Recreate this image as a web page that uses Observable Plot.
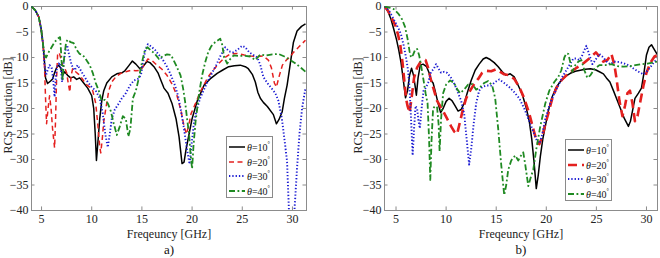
<!DOCTYPE html>
<html><head><meta charset="utf-8">
<script src="https://cdn.jsdelivr.net/npm/d3@7"></script>
<script src="https://cdn.jsdelivr.net/npm/@observablehq/plot@0.6"></script>
<style>
html,body{margin:0;padding:0;background:#fff;}
#wrap{position:relative;width:660px;height:258px;overflow:hidden;font-family:"Liberation Serif","Times New Roman",serif;}
.panel{position:absolute;top:0;}
.legend{position:absolute;background:#fff;border:1px solid #8a8a8a;box-sizing:border-box;font-size:10px;color:#111;width:47px;height:62px;}
.legend .row{position:absolute;left:2px;height:12px;display:flex;align-items:center;white-space:nowrap;}
.legend svg{margin-right:2px;}
.legend sup{font-size:6px;vertical-align:5px;}
</style>
</head>
<body>
<div id="wrap"></div>
<script>
// ---------- data ----------
const xTicks = [5, 10, 15, 20, 25, 30];
const yTicks = [0, -5, -10, -15, -20, -25, -30, -35, -40];
const seriesLabels = ["10", "20", "30", "40"];
const xLabel = "Freqeuncy [GHz]";
const yLabel = "RCS reduction [dB]";
const panelLabels = ["a)", "b)"];

// panel a
const a10 = [[4,0],[4.4,-0.8],[4.73,-2.1],[4.96,-4.4],[5.16,-7.6],[5.3,-11],[5.4,-14],[5.6,-15.1],[5.9,-14.6],[6.1,-14.2],[6.3,-13],[6.5,-12],[6.7,-11.5],[6.9,-12],[7.1,-13.5],[7.3,-12.8],[7.6,-13.5],[7.9,-14],[8.2,-13.8],[8.5,-14.3],[8.8,-14],[9.2,-15],[9.6,-16],[10.0,-17.5],[10.2,-20],[10.35,-25],[10.47,-30.2],[10.6,-27],[10.8,-22],[11.0,-18.5],[11.2,-16.5],[11.5,-15],[12.0,-13.8],[12.5,-13.2],[13.0,-13],[13.3,-12.6],[13.7,-11.6],[14.05,-10.7],[14.4,-11.3],[14.8,-12.2],[15.1,-11.8],[15.5,-10.8],[15.8,-11],[16.2,-11.8],[16.6,-13],[16.9,-14.5],[17.2,-16],[17.6,-17],[18.0,-19],[18.4,-22],[18.7,-25.5],[19.0,-30.8],[19.2,-30.5],[19.4,-28],[19.7,-25],[20.0,-22],[20.5,-18.6],[21.2,-15.4],[21.8,-14.2],[22.5,-13.1],[23.1,-12.4],[23.65,-11.8],[24.2,-11.6],[24.8,-11.5],[25.3,-11.8],[25.6,-12.2],[26.0,-13.3],[26.3,-14.8],[26.55,-16.8],[26.8,-18],[27.1,-18.8],[27.5,-19.6],[28.1,-21.2],[28.4,-23],[28.65,-22.2],[28.97,-20.7],[29.2,-18],[29.47,-15.4],[29.8,-11],[30.1,-7],[30.46,-4.8],[30.9,-3.9],[31.3,-3.4]];
const a20 = [[4,0],[4.4,-0.8],[4.73,-2.1],[4.96,-4.4],[5.16,-7.6],[5.3,-12],[5.4,-18],[5.5,-23],[5.65,-20],[5.8,-17.5],[5.95,-20],[6.1,-24],[6.3,-27.7],[6.4,-22],[6.5,-14],[6.6,-9.5],[6.75,-9],[6.9,-10],[7.1,-11.5],[7.3,-12],[7.5,-13],[7.7,-15.5],[7.82,-16.8],[7.95,-13.5],[8.1,-12.2],[8.4,-12.8],[8.7,-13.3],[9.0,-14],[9.4,-15.2],[9.8,-15.8],[10.1,-16.5],[10.4,-19],[10.6,-23],[10.8,-27.5],[10.9,-28.7],[11.05,-26],[11.2,-22.5],[11.45,-19.5],[11.7,-16.5],[12.0,-14.8],[12.4,-13.8],[12.9,-13.1],[13.4,-12.8],[13.9,-12.5],[14.4,-12.6],[14.9,-12.5],[15.2,-11.5],[15.6,-10.3],[16.0,-10.6],[16.5,-11.5],[17.0,-12.3],[17.5,-13.5],[18.0,-15.2],[18.5,-17.5],[18.9,-20.5],[19.2,-23.5],[19.45,-25],[19.7,-23],[19.9,-21],[20.3,-19.2],[20.8,-16.8],[21.2,-15.3],[21.6,-13.8],[22.1,-12.5],[22.6,-11.3],[23.15,-10.2],[23.8,-9.3],[24.5,-9.2],[25.2,-9.5],[25.8,-9.7],[26.5,-9.8],[27.1,-9.7],[27.6,-10.5],[27.9,-12],[28.2,-15],[28.4,-15.8],[28.7,-13.5],[29.0,-11.5],[29.4,-10.5],[29.8,-9.8],[30.1,-9],[30.7,-7.8],[31.3,-6.6]];
const a30 = [[4,0],[4.4,-0.8],[4.73,-2.1],[4.96,-4.4],[5.16,-7.6],[5.3,-11.5],[5.45,-13.5],[5.6,-12.5],[5.8,-11.5],[6.0,-12],[6.15,-14],[6.3,-17.7],[6.45,-13],[6.6,-11.5],[6.8,-11],[6.95,-12.5],[7.05,-14.8],[7.2,-11],[7.4,-8.5],[7.55,-7.6],[7.75,-9.5],[8.0,-11.5],[8.3,-12.5],[8.6,-11.5],[8.9,-12.5],[9.2,-13.5],[9.6,-14.8],[10.0,-15.8],[10.4,-16.5],[10.8,-18],[11.1,-21],[11.35,-25],[11.6,-27.6],[11.8,-25],[12.0,-22],[12.3,-20.2],[12.7,-19],[13.0,-18],[13.4,-17],[13.8,-15.5],[14.2,-14.5],[14.6,-14.2],[14.9,-13.5],[15.1,-11],[15.35,-8.5],[15.6,-7.4],[15.9,-7.8],[16.3,-8.5],[16.7,-9.5],[17.1,-10.5],[17.5,-11.8],[17.9,-13.5],[18.3,-15.5],[18.6,-17.5],[18.9,-20.5],[19.2,-24],[19.45,-27.5],[19.75,-30.9],[19.95,-27],[20.2,-22.5],[20.5,-20],[20.8,-18],[21.2,-16.2],[21.6,-14.5],[22.0,-13],[22.4,-11.5],[22.8,-9.8],[23.3,-8],[23.7,-8.8],[24.1,-9],[24.5,-8.5],[25.0,-7.7],[25.3,-8],[25.7,-9],[26.1,-9.5],[26.5,-10],[26.8,-11.5],[27.1,-13.8],[27.5,-15],[27.9,-16],[28.3,-17],[28.6,-18.5],[28.95,-22],[29.2,-26],[29.46,-30.3],[29.65,-40],[29.9,-48],[30.2,-40],[30.46,-31.6],[30.7,-25],[30.96,-19.9],[31.3,-16]];
const a40 = [[4,0],[4.4,-0.8],[4.73,-2.1],[4.96,-4.4],[5.16,-7.6],[5.3,-9.5],[5.45,-10],[5.7,-9],[6.0,-8],[6.3,-7],[6.6,-6.3],[6.85,-6],[6.95,-9],[7.1,-14.5],[7.25,-10],[7.45,-7],[7.6,-6.5],[7.9,-7],[8.2,-7.2],[8.5,-8.5],[8.8,-9.3],[9.1,-9.5],[9.4,-10.3],[9.8,-11.5],[10.1,-13],[10.4,-15],[10.7,-16.5],[11.0,-18.5],[11.3,-18.3],[11.6,-19],[11.9,-20.5],[12.2,-23],[12.5,-25.2],[12.8,-23.5],[13.1,-21.5],[13.4,-22],[13.65,-25.5],[13.85,-24],[14.1,-18],[14.4,-16.5],[14.7,-14],[15.0,-11],[15.3,-8.5],[15.55,-8],[15.9,-8.6],[16.3,-9.3],[16.7,-10.3],[17.1,-9.7],[17.5,-9.4],[17.9,-9.5],[18.4,-11.5],[18.85,-13.5],[19.1,-16],[19.3,-18.6],[19.5,-22],[19.7,-25],[19.85,-29],[20.0,-31.8],[20.15,-27],[20.35,-22.5],[20.7,-17],[21.0,-13.5],[21.3,-11],[21.6,-9],[21.9,-7.8],[22.3,-7],[22.8,-6.3],[23.0,-7.5],[23.2,-10],[23.5,-11.2],[23.8,-10.3],[24.15,-9.6],[24.7,-9.7],[25.3,-9.7],[25.8,-9.8],[26.3,-10.5],[26.8,-9.4],[27.4,-9.6],[28.0,-9.4],[28.6,-9.3],[29.2,-9.8],[29.8,-10.5],[30.4,-11.3],[30.9,-12.1],[31.3,-12.8]];

// panel b
const b10 = [[3.87,0],[4.2,-1],[4.5,-2.5],[4.77,-4.4],[5.05,-6.5],[5.27,-8.5],[5.5,-11],[5.7,-14],[5.95,-17.9],[6.15,-16.5],[6.35,-13.5],[6.55,-12.1],[6.75,-13.5],[6.9,-15.5],[7.03,-17.4],[7.2,-14],[7.42,-11.5],[7.7,-11.3],[8.05,-11.8],[8.3,-13],[8.5,-14.5],[8.7,-15],[8.9,-16.5],[9.2,-19],[9.45,-20.8],[9.7,-20],[10.0,-18.6],[10.3,-18],[10.6,-18.5],[10.9,-19.5],[11.2,-20.5],[11.5,-20.2],[11.8,-19],[12.1,-17],[12.5,-14.5],[12.9,-12.5],[13.3,-11.3],[13.7,-10.3],[14.0,-10],[14.4,-10.4],[14.8,-11],[15.2,-11.8],[15.6,-12.8],[16.0,-13.5],[16.4,-13.2],[16.8,-13.8],[17.2,-15.5],[17.6,-17.2],[18.0,-19.9],[18.3,-22.5],[18.55,-26],[18.8,-31],[19.0,-35.7],[19.2,-33],[19.4,-29.5],[19.65,-26],[19.9,-23.5],[20.2,-20.5],[20.55,-17.9],[21.0,-15.8],[21.4,-14.7],[21.9,-13.7],[22.4,-13.1],[22.9,-12.7],[23.4,-12.5],[23.9,-12.3],[24.4,-12.2],[24.9,-12.4],[25.3,-12.8],[25.7,-13.2],[26.0,-14],[26.35,-14.8],[26.7,-16.5],[27.0,-18],[27.4,-20],[27.8,-22],[28.2,-23.5],[28.4,-22.5],[28.6,-20.5],[28.85,-18],[29.2,-17],[29.5,-16],[29.75,-13],[30.0,-9.5],[30.25,-8],[30.5,-7.5],[30.8,-8.5],[31.1,-9.5]];
const b20 = [[3.87,0],[4.2,-0.8],[4.5,-2],[4.93,-3.7],[5.2,-5.5],[5.43,-7.6],[5.65,-11],[5.85,-15],[6.0,-18],[6.15,-19.5],[6.35,-20.8],[6.55,-18],[6.8,-14],[7.1,-12],[7.4,-11],[7.7,-10.5],[7.95,-10.5],[8.2,-12],[8.5,-14.5],[8.8,-16.5],[9.1,-18.5],[9.4,-19.5],[9.7,-20.5],[10.1,-22],[10.5,-23.5],[10.8,-24.5],[11.1,-25],[11.4,-22.5],[11.7,-20],[12.0,-18],[12.4,-16.5],[12.8,-15.2],[13.2,-14.2],[13.6,-13],[14.0,-12.6],[14.5,-12.7],[15.0,-12.3],[15.4,-12.8],[15.8,-13.3],[16.3,-13.5],[16.8,-14.2],[17.3,-15.8],[17.8,-18],[18.3,-21],[18.7,-24],[19.05,-26.5],[19.3,-27],[19.6,-25.5],[19.9,-23],[20.2,-21],[20.6,-18],[21.0,-16],[21.5,-14.5],[22.0,-13.5],[22.6,-12.6],[23.2,-11.8],[23.8,-11],[24.4,-10],[24.95,-9],[25.3,-9.8],[25.7,-10.8],[26.1,-10.5],[26.5,-9.3],[26.8,-11.5],[27.0,-14],[27.3,-18.5],[27.6,-21.5],[27.85,-19.5],[28.1,-17],[28.35,-16.5],[28.6,-19],[28.85,-22.5],[29.1,-21.5],[29.4,-18.5],[29.7,-15.5],[30.0,-13],[30.4,-11],[30.8,-9.8],[31.1,-9.5]];
const b30 = [[3.87,0],[4.3,-0.8],[4.77,-2.5],[5.27,-4.4],[5.5,-5.5],[5.76,-7.6],[6.0,-10],[6.2,-12.5],[6.35,-16],[6.5,-22],[6.66,-29.2],[6.8,-24],[6.95,-19.5],[7.1,-20],[7.25,-22.5],[7.38,-23.9],[7.55,-20],[7.75,-16.5],[7.95,-16],[8.2,-15],[8.5,-12.8],[8.75,-12.3],[9.0,-11.3],[9.25,-12.2],[9.5,-13],[9.8,-12.8],[10.1,-13],[10.5,-14],[10.9,-15.5],[11.2,-17],[11.5,-18.5],[11.8,-21],[12.05,-26],[12.3,-31],[12.5,-28],[12.75,-23],[13.0,-19],[13.3,-16.5],[13.6,-15.8],[14.0,-15.5],[14.5,-15.5],[14.9,-14.8],[15.3,-14.3],[15.8,-15],[16.3,-15.8],[16.8,-16.8],[17.3,-18],[17.8,-20],[18.3,-22.5],[18.8,-25],[19.1,-26.5],[19.35,-26.8],[19.6,-25],[19.9,-22],[20.3,-19.5],[20.7,-17.5],[21.2,-15.5],[21.6,-13.8],[22.0,-12.5],[22.4,-11.2],[22.7,-10.2],[23.0,-10.2],[23.3,-10.5],[23.6,-9.5],[24.0,-7.7],[24.3,-9.5],[24.6,-11.3],[24.9,-10.5],[25.3,-9.3],[25.7,-10],[26.1,-11],[26.4,-11.3],[26.8,-10.8],[27.3,-10.9],[27.8,-11.2],[28.3,-11.6],[28.8,-12.3],[29.3,-12.9],[29.7,-13.3],[30.1,-12.6],[30.5,-11.6],[30.8,-10.8],[31.1,-10.3]];
const b40 = [[3.87,0],[4.3,-0.2],[4.77,-0.5],[5.27,-1.5],[5.6,-2.5],[5.9,-4],[6.15,-6.3],[6.35,-8.8],[6.5,-10],[6.7,-9.5],[6.9,-8.5],[7.1,-8.3],[7.3,-9.5],[7.5,-11.5],[7.75,-14.5],[7.95,-17],[8.15,-19],[8.3,-26],[8.42,-34],[8.55,-26],[8.7,-20],[8.9,-19.5],[9.1,-19.8],[9.25,-23],[9.35,-28.4],[9.5,-22],[9.7,-17],[10.0,-15.3],[10.4,-14.5],[10.8,-15],[11.1,-16.2],[11.4,-17],[11.8,-16.3],[12.2,-15.3],[12.6,-15.2],[13.0,-16.3],[13.4,-15.8],[13.8,-15],[14.2,-14.6],[14.6,-15.5],[14.9,-18],[15.2,-24],[15.5,-31],[15.8,-37],[16.0,-35],[16.2,-32],[16.5,-30.2],[16.9,-29.2],[17.2,-30.2],[17.45,-29.3],[17.7,-28.6],[17.9,-31],[18.2,-35.2],[18.45,-33.5],[18.7,-32],[19.0,-28],[19.4,-23.5],[19.9,-19],[20.3,-16.5],[20.8,-14.8],[21.2,-13.8],[21.5,-12.5],[21.8,-10],[22.0,-9.2],[22.2,-9.3],[22.4,-11],[22.6,-12.8],[22.9,-11.5],[23.2,-10.8],[23.5,-10.5],[23.8,-12.5],[24.1,-14],[24.4,-13.5],[24.8,-12.3],[25.3,-11.5],[25.9,-11.5],[26.5,-11.3],[27.1,-11.7],[27.7,-11.8],[28.3,-11.7],[28.9,-11.5],[29.5,-11.3],[30.1,-11.2],[30.6,-11],[31.1,-10.8]];

// ---------- styles ----------
const colors = ["#000000", "#e4201f", "#1c1cd2", "#1f8a22"];
const stylesA = [
  {strokeWidth: 1.5, strokeDasharray: null},
  {strokeWidth: 1.5, strokeDasharray: "5,3.5"},
  {strokeWidth: 1.9, strokeDasharray: "1.3,2"},
  {strokeWidth: 1.8, strokeDasharray: "6,2.5,1.8,2.5"}
];
const stylesB = [
  {strokeWidth: 1.5, strokeDasharray: null},
  {strokeWidth: 2.6, strokeDasharray: "9,5"},
  {strokeWidth: 1.9, strokeDasharray: "1.3,2"},
  {strokeWidth: 1.8, strokeDasharray: "6,2.5,1.8,2.5"}
];
const FONT = '"Liberation Serif", "Times New Roman", serif';

function makePanel(series, styles, opt) {
  const [x0, x1] = opt.xDomain;
  const y0 = -40, y1 = 0;
  const tkY = 0.7, tkX = 0.35;
  const marks = [
    Plot.frame({stroke: "#8c8c8c", strokeWidth: 1}),
    Plot.ruleX(xTicks, {x: d => d, y1: y0, y2: y0 + tkY, stroke: "#8c8c8c"}),
    Plot.ruleX(xTicks, {x: d => d, y1: y1, y2: y1 - tkY, stroke: "#8c8c8c"}),
    Plot.ruleY(yTicks, {y: d => d, x1: x0, x2: x0 + tkX, stroke: "#8c8c8c"}),
    Plot.ruleY(yTicks, {y: d => d, x1: x1, x2: x1 - tkX, stroke: "#8c8c8c"}),
    Plot.axisX(xTicks, {tickSize: 0, tickPadding: 4, label: null, fontSize: 12, fill: "#222", fontFamily: FONT}),
    Plot.axisY(yTicks, {tickSize: 0, tickPadding: 3, label: null, fontSize: 12, fill: "#222", fontFamily: FONT}),
  ];
  series.forEach((s, i) => {
    marks.push(Plot.line(s, {x: d => d[0], y: d => d[1], stroke: colors[i],
      strokeWidth: styles[i].strokeWidth, strokeDasharray: styles[i].strokeDasharray,
      clip: true, strokeLinejoin: "round", strokeLinecap: "butt"}));
  });
  marks.push(
    Plot.text([xLabel], {frameAnchor: "bottom", dy: 24, text: d => d, fontSize: 12, fill: "#222", lineAnchor: "middle", textAnchor: "middle", fontFamily: FONT}),
    Plot.text([opt.panelLabel], {frameAnchor: "bottom", dy: 39, text: d => d, fontSize: 13, fill: "#111", lineAnchor: "middle", textAnchor: "middle", fontFamily: FONT}),
    Plot.text([yLabel], {frameAnchor: "left", dx: opt.yLabelDx, dy: -3, rotate: -90, text: d => d, fontSize: 12, fill: "#222", lineAnchor: "middle", textAnchor: "middle", fontFamily: FONT})
  );
  return Plot.plot({
    width: 330, height: 258,
    marginLeft: opt.marginLeft, marginRight: opt.marginRight, marginTop: 6, marginBottom: 48,
    x: {domain: opt.xDomain},
    y: {domain: [y0, y1]},
    style: {fontFamily: FONT, background: "#fff", overflow: "visible"},
    marks
  });
}

const wrap = document.getElementById("wrap");
const pa = makePanel([a10, a20, a30, a40], stylesA, {xDomain: [4, 31.4], marginLeft: 31, marginRight: 24, yLabelDx: -23, panelLabel: panelLabels[0]});
const pb = makePanel([b10, b20, b30, b40], stylesB, {xDomain: [3.85, 31.1], marginLeft: 54, marginRight: 3, yLabelDx: -26, panelLabel: panelLabels[1]});
pa.classList.add("panel"); pa.style.left = "0px";
pb.classList.add("panel"); pb.style.left = "330px";
wrap.appendChild(pa); wrap.appendChild(pb);

// legends
function legend(styles, left, top) {
  const box = document.createElement("div");
  box.className = "legend";
  box.style.left = left + "px"; box.style.top = top + "px";
  seriesLabels.forEach((lab, i) => {
    const row = document.createElement("div");
    row.className = "row";
    row.style.top = (4 + i * 14.7) + "px";
    const dash = styles[i].strokeDasharray ? `stroke-dasharray="${styles[i].strokeDasharray}"` : "";
    row.innerHTML = `<svg width="16" height="6"><line x1="0" y1="3" x2="16" y2="3" stroke="${colors[i]}" stroke-width="${styles[i].strokeWidth}" ${dash}/></svg><span><i>θ</i>=${lab}<sup>°</sup></span>`;
    box.appendChild(row);
  });
  wrap.appendChild(box);
}
legend(stylesA, 226, 136);
legend(stylesB, 565, 139);
</script>
</body></html>
